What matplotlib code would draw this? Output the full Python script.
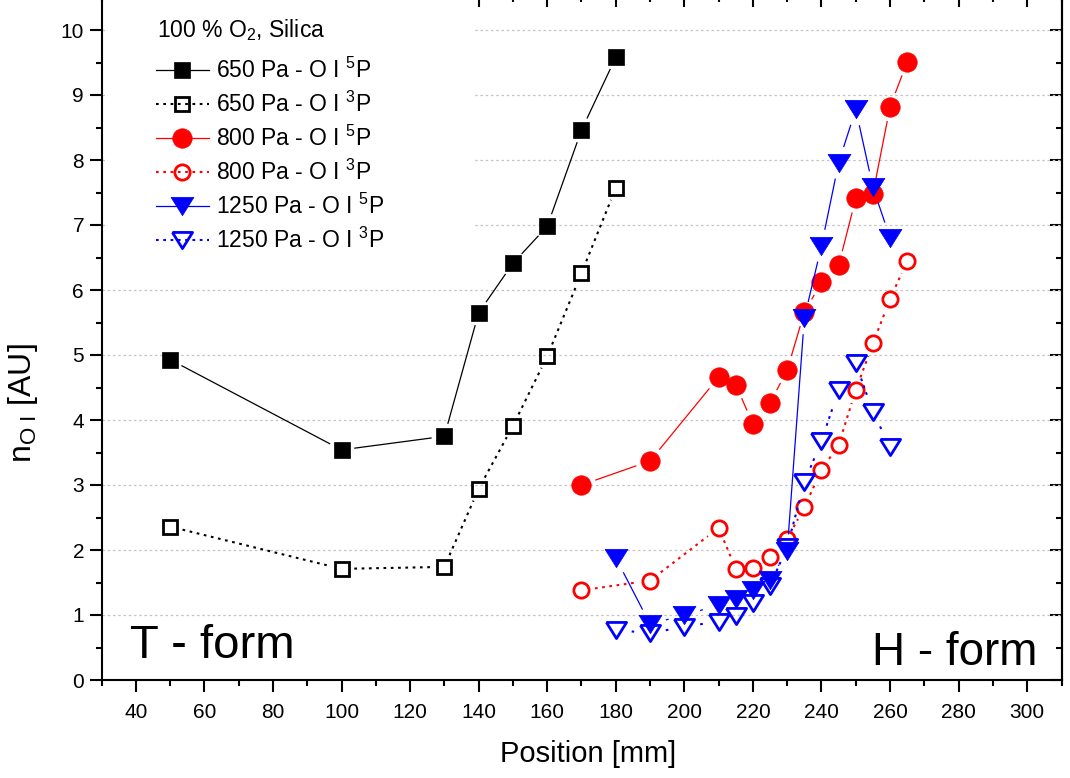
import numpy as np
import matplotlib
matplotlib.use("Agg")
import matplotlib.pyplot as plt
from matplotlib.lines import Line2D
from matplotlib.patches import Rectangle
from matplotlib.ticker import MultipleLocator

plt.rcParams['font.family'] = ['Liberation Sans', 'DejaVu Sans']
plt.rcParams['mathtext.fontset'] = 'custom'
plt.rcParams['mathtext.rm'] = 'Liberation Sans'
plt.rcParams['mathtext.it'] = 'Liberation Sans:italic'
plt.rcParams['mathtext.default'] = 'regular'

# ---- data: O I density along the discharge tube ----
pos_650 = [50, 100, 130, 140, 150, 160, 170, 180]
n_650_5p = [4.93, 3.54, 3.75, 5.65, 6.41, 6.98, 8.46, 9.58]
n_650_3p = [2.36, 1.71, 1.74, 2.94, 3.91, 4.98, 6.26, 7.57]

pos_800 = [170, 190, 210, 215, 220, 225, 230, 235, 240, 245, 250, 255, 260, 265]
n_800_5p = [3.00, 3.37, 4.66, 4.54, 3.94, 4.26, 4.77, 5.66, 6.12, 6.38, 7.41, 7.48, 8.82, 9.51]
n_800_3p = [1.38, 1.53, 2.34, 1.71, 1.72, 1.89, 2.17, 2.66, 3.23, 3.62, 4.46, 5.18, 5.86, 6.45]

pos_1250 = [180, 190, 200, 210, 215, 220, 225, 230, 235, 240, 245, 250, 255, 260]
n_1250_5p = [1.88, 0.86, 1.00, 1.15, 1.24, 1.38, 1.54, 1.99, 5.57, 6.68, 7.96, 8.78, 7.58, 6.80]
n_1250_3p = [0.77, 0.72, 0.82, 0.90, 0.99, 1.18, 1.45, 2.05, 3.04, 3.68, 4.46, 4.87, 4.12, 3.59]

legend_title = r'100 % O$_2$, Silica'
labels = [r'650 Pa - O I $^{5}$P', r'650 Pa - O I $^{3}$P',
          r'800 Pa - O I $^{5}$P', r'800 Pa - O I $^{3}$P',
          r'1250 Pa - O I $^{5}$P', r'1250 Pa - O I $^{3}$P']

# wide, flat down-pointing triangle
tri_down = [(-1.0, 0.8), (1.0, 0.8), (0.0, -0.8), (-1.0, 0.8)]

SOLID = '-'
DOTTED = (0, (1.3, 2.2))

styles = [
    dict(color='black', ls=SOLID, lw=0.9, marker='s', ms=11.5, mfc='black', mew=0.5),
    dict(color='black', ls=DOTTED, lw=1.5, marker='s', ms=10, mfc='none', mew=2.0),
    dict(color='#ff0000', ls=SOLID, lw=0.9, marker='o', ms=14, mfc='#ff0000', mew=0.5),
    dict(color='#ff0000', ls=DOTTED, lw=1.5, marker='o', ms=11, mfc='none', mew=2.0),
    dict(color='#0000ff', ls=SOLID, lw=0.9, marker=tri_down, ms=16.5, mfc='#0000ff', mew=0.5),
    dict(color='#0000ff', ls=DOTTED, lw=1.5, marker=tri_down, ms=14.5, mfc='none', mew=2.0),
]
series = [(pos_650, n_650_5p), (pos_650, n_650_3p),
          (pos_800, n_800_5p), (pos_800, n_800_3p),
          (pos_1250, n_1250_5p), (pos_1250, n_1250_3p)]

W, H, DPI = 1070, 778, 100
fig = plt.figure(figsize=(W / DPI, H / DPI), dpi=DPI)
ax_l, ax_r, ax_b, ax_t = 101.5, 1061.5, 680.0, -2.5
ax = fig.add_axes([ax_l / W, (H - ax_b) / H, (ax_r - ax_l) / W, (ax_b - ax_t) / H])
ax.set_xlim(30, 310)
ax.set_ylim(0, 10.5)


def px_to_axes(px, py):
    """Figure pixel position (from top-left) to axes fraction."""
    return (px - ax_l) / (ax_r - ax_l), (ax_b - py) / (ax_b - ax_t)


def gapped_line(ax, xs, ys, gap_px, **kw):
    """Connect points with segments that stop short of each marker."""
    pts = ax.transData.transform(np.column_stack([xs, ys]))
    inv = ax.transData.inverted()
    for p0, p1 in zip(pts[:-1], pts[1:]):
        d = p1 - p0
        L = np.hypot(*d)
        if L <= 2 * gap_px:
            continue
        u = d / L
        seg = inv.transform(np.vstack([p0 + u * gap_px, p1 - u * gap_px]))
        ax.plot(seg[:, 0], seg[:, 1], **kw)


handles = []
for i, ((xs, ys), st, lab) in enumerate(zip(series, styles, labels)):
    gap = 0.5 * (st['ms'] + st['mew']) * DPI / 72 + 4.5
    gapped_line(ax, xs, ys, gap, color=st['color'], ls=st['ls'], lw=st['lw'],
                zorder=3 + 2 * i, solid_capstyle='butt', dash_capstyle='butt')
    ax.plot(xs, ys, ls='none', marker=st['marker'], ms=st['ms'], mfc=st['mfc'],
            mec=st['color'], mew=st['mew'], zorder=4 + 2 * i)
    handles.append(Line2D([], [], color=st['color'], ls=st['ls'], lw=st['lw'],
                          marker=st['marker'], ms=st['ms'], mfc=st['mfc'],
                          mec=st['color'], mew=st['mew'], label=lab))

# axes styling
for sp in ax.spines.values():
    sp.set_linewidth(1.5)
ax.xaxis.set_major_locator(MultipleLocator(20))
ax.xaxis.set_minor_locator(MultipleLocator(10))
ax.yaxis.set_major_locator(MultipleLocator(1))
ax.yaxis.set_minor_locator(MultipleLocator(0.5))
ax.tick_params(which='major', direction='out', length=8.6, width=1.5, labelsize=15, pad=4)
ax.tick_params(which='minor', direction='out', length=4.3, width=1.5)
ax.tick_params(axis='x', which='major', pad=8)

top = ax.secondary_xaxis('top')
top.xaxis.set_major_locator(MultipleLocator(20))
top.xaxis.set_minor_locator(MultipleLocator(10))
top.tick_params(which='major', direction='in', length=7.2, width=1.5, labeltop=False)
top.tick_params(which='minor', direction='in', length=3.6, width=1.5)
top.spines['top'].set_linewidth(1.5)

right = ax.secondary_yaxis('right')
right.yaxis.set_major_locator(MultipleLocator(1))
right.yaxis.set_minor_locator(MultipleLocator(0.5))
right.tick_params(which='major', direction='in', length=8.6, width=1.5, labelright=False)
right.tick_params(which='minor', direction='in', length=4.6, width=1.5)
right.spines['right'].set_linewidth(1.5)

ax.set_axisbelow(True)
ax.yaxis.grid(True, which='major', color='#c4c4c4', lw=0.9, ls=(0, (2.0, 2.2)))

ax.set_xlabel('Position [mm]', fontsize=21)
ax.xaxis.set_label_coords(0.507, -0.088)
ax.set_ylabel(r'n$_{\mathrm{O\ I}}$ [AU]', fontsize=23)
ax.yaxis.set_label_coords(-0.064, 0.405)

# white panel behind the legend
ax.add_patch(Rectangle((0.007, 0.62), 0.38, 0.40, transform=ax.transAxes,
                       facecolor='white', edgecolor='none', zorder=1))

tx, ty = px_to_axes(157, 30)
ax.text(tx, ty, legend_title, transform=ax.transAxes, fontsize=16.5,
        ha='left', va='center', zorder=25)

lx, ly = px_to_axes(156, 58)
leg = ax.legend(handles=handles, loc='upper left',
                bbox_to_anchor=(lx, ly), frameon=False, fontsize=16.5,
                numpoints=1, handlelength=2.3, handletextpad=0.3,
                labelspacing=0.38, borderpad=0, borderaxespad=0)
leg.set_zorder(20)

ax.text(0.030, 0.032, 'T - form', transform=ax.transAxes, fontsize=34,
        ha='left', va='baseline', zorder=25)
ax.text(0.9745, 0.022, 'H - form', transform=ax.transAxes, fontsize=33,
        ha='right', va='baseline', zorder=25)

fig.savefig('out.png', dpi=DPI)
